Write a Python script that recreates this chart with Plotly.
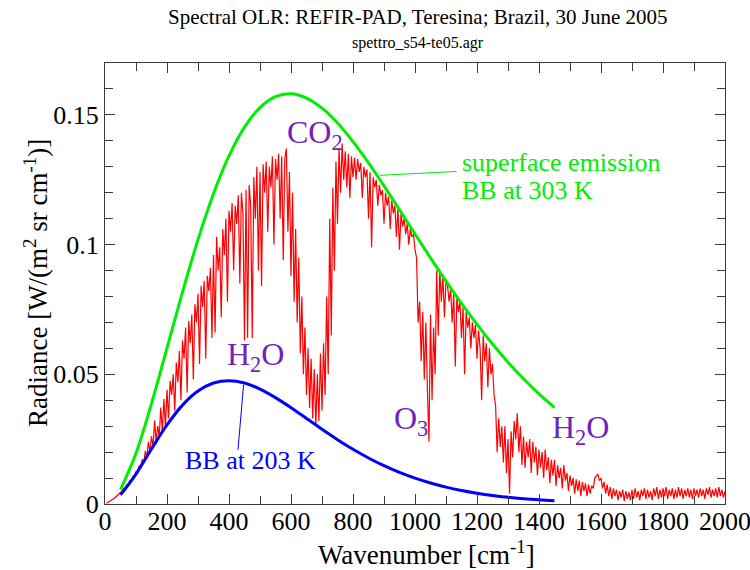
import numpy as np
import plotly.graph_objects as go

# ---------------- data ----------------
# measured spectrum (REFIR-PAD), sampled every 5 cm-1 from 5 to 2000
wn_step = 5
spectrum = [
    0.0003, 0.0006, 0.0010, 0.0014, 0.0018, 0.0022, 0.0027, 0.0032, 0.0037, 0.0043,
    0.0050, 0.0060, 0.0061, 0.0074, 0.0073, 0.0090, 0.0088, 0.0106, 0.0102, 0.0126,
    0.0120, 0.0148, 0.0138, 0.0172, 0.0158, 0.0205, 0.0178, 0.0240, 0.0198, 0.0262,
    0.0218, 0.0322, 0.0240, 0.0300, 0.0262, 0.0372, 0.0278, 0.0405, 0.0298, 0.0440,
    0.0330, 0.0475, 0.0420, 0.0500, 0.0360, 0.0545, 0.0470, 0.0590, 0.0400, 0.0630,
    0.0560, 0.0680, 0.0430, 0.0705, 0.0620, 0.0730, 0.0480, 0.0770, 0.0700, 0.0810,
    0.0540, 0.0840, 0.0760, 0.0860, 0.0560, 0.0880, 0.0820, 0.0910, 0.0640, 0.0960,
    0.0660, 0.1030, 0.0900, 0.0990, 0.0720, 0.1060, 0.0960, 0.1100, 0.0780, 0.1130,
    0.1050, 0.1160, 0.0900, 0.1150, 0.1080, 0.1190, 0.0850, 0.1200, 0.1120, 0.0630,
    0.1210, 0.0640, 0.1230, 0.1150, 0.0640, 0.1260, 0.1100, 0.1300, 0.0900, 0.1280,
    0.0840, 0.1310, 0.1200, 0.1320, 0.1050, 0.1300, 0.1220, 0.1340, 0.1000, 0.1330,
    0.1250, 0.1350, 0.1100, 0.1340, 0.0940, 0.1330, 0.1370, 0.1050, 0.1280, 0.0880,
    0.1200, 0.0780, 0.1060, 0.0700, 0.0950, 0.0580, 0.0800, 0.0500, 0.0680, 0.0420,
    0.0600, 0.0370, 0.0560, 0.0330, 0.0520, 0.0300, 0.0500, 0.0320, 0.0580, 0.0360,
    0.0620, 0.0420, 0.0800, 0.0500, 0.1100, 0.0650, 0.1220, 0.0900, 0.1320, 0.1080,
    0.1370, 0.1200, 0.1390, 0.1250, 0.1360, 0.1220, 0.1350, 0.1180, 0.1340, 0.1260,
    0.1335, 0.1250, 0.1330, 0.1280, 0.1315, 0.1180, 0.1300, 0.1260, 0.1290, 0.1100,
    0.1280, 0.0990, 0.1260, 0.1220, 0.1250, 0.1150, 0.1230, 0.1190, 0.1210, 0.1080,
    0.1200, 0.1150, 0.1185, 0.1060, 0.1170, 0.1120, 0.1150, 0.1030, 0.1140, 0.0980,
    0.1120, 0.1070, 0.1100, 0.1040, 0.1080, 0.1000, 0.1060, 0.1030, 0.1040, 0.0980,
    0.0950, 0.0700, 0.0780, 0.0550, 0.0740, 0.0480, 0.0700, 0.0440, 0.0240, 0.0730,
    0.0400, 0.0680, 0.0500, 0.0900, 0.0650, 0.0900, 0.0780, 0.0880, 0.0720, 0.0860,
    0.0840, 0.0780, 0.0830, 0.0700, 0.0810, 0.0530, 0.0800, 0.0740, 0.0780, 0.0640,
    0.0760, 0.0500, 0.0740, 0.0680, 0.0720, 0.0600, 0.0700, 0.0640, 0.0690, 0.0560,
    0.0670, 0.0600, 0.0400, 0.0650, 0.0550, 0.0620, 0.0450, 0.0600, 0.0500, 0.0540,
    0.0420, 0.0380, 0.0200, 0.0330, 0.0220, 0.0300, 0.0160, 0.0300, 0.0120, 0.0250,
    0.0040, 0.0280, 0.0180, 0.0320, 0.0250, 0.0350, 0.0200, 0.0300, 0.0150, 0.0260,
    0.0140, 0.0240, 0.0180, 0.0250, 0.0120, 0.0240, 0.0160, 0.0220, 0.0110, 0.0210,
    0.0140, 0.0200, 0.0100, 0.0210, 0.0130, 0.0180, 0.0080, 0.0170, 0.0110, 0.0170,
    0.0070, 0.0150, 0.0100, 0.0140, 0.0060, 0.0150, 0.0090, 0.0120, 0.0050, 0.0110,
    0.0070, 0.0100, 0.0040, 0.0095, 0.0050, 0.0090, 0.0030, 0.0085, 0.0050, 0.0080,
    0.0030, 0.0075, 0.0040, 0.0070, 0.0060, 0.0100, 0.0110, 0.0115, 0.0090, 0.0100,
    0.0060, 0.0085, 0.0040, 0.0075, 0.0030, 0.0065, 0.0020, 0.0060, 0.0030, 0.0055,
    0.0015, 0.0050, 0.0025, 0.0055, 0.0012, 0.0050, 0.0020, 0.0045, 0.0015, 0.0055,
    0.0020, 0.0060, 0.0025, 0.0050, 0.0015, 0.0055, 0.0030, 0.0060, 0.0020, 0.0055,
    0.0025, 0.0050, 0.0015, 0.0060, 0.0030, 0.0065, 0.0020, 0.0055, 0.0025, 0.0060,
    0.0030, 0.0065, 0.0020, 0.0055, 0.0030, 0.0060, 0.0020, 0.0055, 0.0025, 0.0065,
    0.0030, 0.0060, 0.0020, 0.0055, 0.0030, 0.0060, 0.0025, 0.0055, 0.0020, 0.0060,
    0.0030, 0.0055, 0.0025, 0.0060, 0.0030, 0.0055, 0.0020, 0.0060, 0.0035, 0.0065,
    0.0025, 0.0055, 0.0030, 0.0060, 0.0025, 0.0065, 0.0030, 0.0055, 0.0025, 0.0050,
]
wavenumber = np.arange(1, len(spectrum) + 1) * wn_step

# black-body curves read every 50 cm-1 from 50 to 1450
bb_wavenumber = list(range(50, 1451, 50))
bb_303K = [0.00556, 0.01960, 0.03871, 0.06012, 0.08171, 0.10190, 0.11961, 0.13417,
           0.14526, 0.15281, 0.15700, 0.15810, 0.15649, 0.15261, 0.14687, 0.13971,
           0.13152, 0.12266, 0.11344, 0.10410, 0.09487, 0.08591, 0.07733, 0.06923,
           0.06167, 0.05467, 0.04827, 0.04244, 0.03718]
bb_203K = [0.00350, 0.01155, 0.02121, 0.03047, 0.03812, 0.04355, 0.04664, 0.04755,
           0.04663, 0.04431, 0.04102, 0.03713, 0.03298, 0.02881, 0.02481, 0.02110,
           0.01774, 0.01476, 0.01217, 0.00996, 0.00809, 0.00652, 0.00523, 0.00417,
           0.00330, 0.00261, 0.00205, 0.00160, 0.00125]

x_tickvals = list(range(0, 2001, 200))
y_tickvals = [0, 0.05, 0.1, 0.15]
y_ticktext = ["0", "0.05", "0.1", "0.15"]

# ---------------- styles ----------------
SERIF = "Liberation Serif, Times New Roman, serif"
RED = "#ff0000"
GREEN = "#00ee00"
BLUE = "#0000ff"
PURPLE = "rgb(114,33,188)"
AXIS = "#3a3a3a"

fig = go.Figure()
fig.add_trace(go.Scatter(x=wavenumber, y=spectrum, mode="lines",
                         line=dict(color=RED, width=1.2), hoverinfo="skip"))
fig.add_trace(go.Scatter(x=bb_wavenumber, y=bb_303K, mode="lines",
                         line=dict(color=GREEN, width=3, shape="spline")))
fig.add_trace(go.Scatter(x=bb_wavenumber, y=bb_203K, mode="lines",
                         line=dict(color=BLUE, width=3, shape="spline")))

# pointer lines
fig.add_shape(type="line", x0=887, y0=0.1267, x1=1134, y1=0.1282,
              line=dict(color=GREEN, width=1))
fig.add_shape(type="line", x0=447, y0=0.0459, x1=429, y1=0.0209,
              line=dict(color=BLUE, width=1))

def label(x, y, text, color, size, xref="x", yref="y", xanchor="left", yanchor="middle", angle=0):
    fig.add_annotation(x=x, y=y, xref=xref, yref=yref, text=text, showarrow=False,
                       xanchor=xanchor, yanchor=yanchor, textangle=angle,
                       font=dict(family=SERIF, size=size, color=color))

label(581, 0.1426, "CO<sub>2</sub>", PURPLE, 32)
label(388, 0.0567, "H<sub>2</sub>O", PURPLE, 32)
label(927, 0.0322, "O<sub>3</sub>", PURPLE, 32)
label(1435, 0.0286, "H<sub>2</sub>O", PURPLE, 32)
label(1145, 0.1318, "superface emission", GREEN, 26)
label(1145, 0.1209, "BB at 303 K", GREEN, 26)
label(250, 0.01665, "BB at 203 K", BLUE, 26)

# titles
label(0.505, 1.105, "Spectral OLR: REFIR-PAD, Teresina; Brazil, 30 June 2005", "black", 21,
      xref="paper", yref="paper", xanchor="center")
label(0.505, 1.046, "spettro_s54-te05.agr", "black", 16,
      xref="paper", yref="paper", xanchor="center")
label(0.518, -0.112, "Wavenumber [cm<sup>-1</sup>]", "black", 27,
      xref="paper", yref="paper", xanchor="center")
label(-0.112, 0.5, "Radiance [W/(m<sup>2</sup> sr cm<sup>-1</sup>)]", "black", 27,
      xref="paper", yref="paper", xanchor="center", angle=-90)

axis_common = dict(showgrid=False, zeroline=False, showline=True, linecolor=AXIS, linewidth=1,
                   mirror="ticks", ticks="inside", tickcolor=AXIS, ticklen=10, tickwidth=1,
                   automargin=False, ticklabeloverflow="allow",
                   tickfont=dict(family=SERIF, size=26, color="black"))

fig.update_xaxes(range=[0, 2000], tickvals=x_tickvals, ticklabelstandoff=-6,
                 minor=dict(dtick=100, tick0=0, ticks="inside", ticklen=8, tickcolor=AXIS),
                 **axis_common)
fig.update_yaxes(range=[0, 0.17], tickvals=y_tickvals, ticktext=y_ticktext,
                 minor=dict(dtick=0.01, tick0=0, ticks="inside", ticklen=8, tickcolor=AXIS),
                 **axis_common)

fig.update_layout(width=750, height=570, template="none",
                  margin=dict(l=105, r=25, t=63, b=66),
                  paper_bgcolor="white", plot_bgcolor="white", showlegend=False)

fig.write_html("out.html")
